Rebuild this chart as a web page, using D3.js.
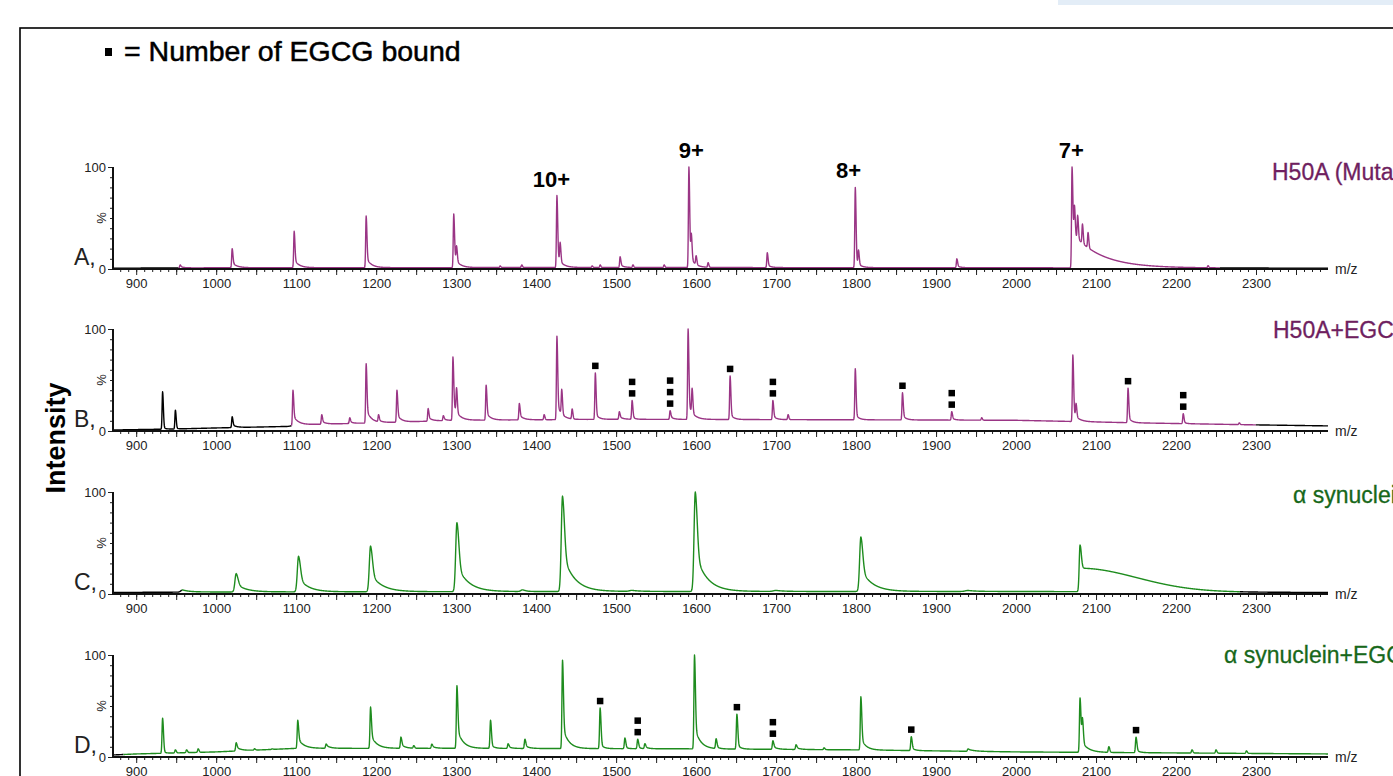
<!DOCTYPE html>
<html><head><meta charset="utf-8">
<script src="https://cdn.jsdelivr.net/npm/d3@7"></script>
<style>
body{margin:0;background:#fff;}
svg{display:block;font-family:"Liberation Sans",Arial,Helvetica,sans-serif;}
</style>
</head><body>
<svg id="chart" width="1393" height="776"></svg>
<script>
// ---------------- DATA ----------------
const panelLetters = ["A,", "B,", "C,", "D,"];
const panelNames = ["H50A (Mutant)", "H50A+EGCG", "α synuclein", "α synuclein+EGCG"];
const mzDomain = [871, 2390];
const xTickLabels = [900, 1000, 1100, 1200, 1300, 1400, 1500, 1600, 1700, 1800, 1900, 2000, 2100, 2200, 2300];
const yTickLabels = [0, 100];
const legendText = "= Number of EGCG bound";
const yTitle = "Intensity";

// peaks: [m/z, apex %, tail %, tail length, tail exponent, width]
const peaksA = [
  [955, 4, 1.5, 4], [1020, 20, 5, 6], [1097.5, 37, 8, 6], [1187.5, 52, 10, 6],
  [1297, 54, 12, 6], [1300.5, 16], [1355, 3], [1382, 4], [1426, 72, 12, 6], [1430, 20],
  [1470, 3], [1480, 4], [1505, 12, 3, 4], [1521, 4], [1560, 4],
  [1591, 100, 14, 6], [1594, 26], [1600, 10], [1615, 6], [1689, 16, 3, 4],
  [1799, 80, 8, 5], [1803, 15], [1926, 10, 2, 4],
  [2070, 100, 35, 35], [2073, 30], [2077, 24], [2083, 20], [2090, 16], [2240, 3]
];
const baseA = [[871, 0.8], [1000, 1.2], [1500, 1.5], [2000, 1.2], [2390, 0.8]];

const peaksB = [
  [933, 38.5, 2, 3], [949, 20.5, 1, 3], [1020, 14, 3, 5], [1096, 40, 10, 6],
  [1132, 16, 3, 5], [1167, 13, 2, 4], [1187.5, 66, 14, 6], [1203, 15, 2, 4],
  [1226, 40, 8, 5], [1265, 22, 4, 5], [1284, 15, 2, 4], [1296, 72.5, 18, 6], [1300.5, 34],
  [1337.5, 45, 8, 5], [1379, 27, 5, 5], [1410, 16], [1426, 93, 16, 6], [1432, 35],
  [1445, 21], [1474, 57, 6, 4], [1504, 19, 3, 4], [1520, 30, 3, 3], [1567.5, 20, 3, 4],
  [1590, 100, 16, 6], [1595, 35], [1642.5, 54, 6, 4], [1696, 30, 4, 4], [1715, 16],
  [1799, 61, 6, 4], [1858, 37.5, 5, 4], [1919.6, 19, 2, 4], [1957, 13],
  [2071, 74.5, 10, 6], [2075, 22], [2140, 42, 6, 4], [2209, 17, 2, 3], [2279, 8]
];
const baseB = [[871, 1], [950, 2], [1000, 3], [1090, 4.5], [1100, 6], [1200, 8], [1300, 10.5],
  [1500, 11.5], [1800, 11], [2000, 10.5], [2150, 8], [2300, 6], [2390, 5]];

const peaksC = [
  [958, 4, 2, 10, 1, 2], [1025, 20, 8, 12, 1, 1.5], [1103, 37, 14, 12, 1, 1.5],
  [1193, 47, 18, 14, 1, 1.5], [1301, 70, 26, 14, 1, 1.5], [1383, 4, 1, 6, 1, 2],
  [1433, 96, 38, 14, 1, 1.5], [1520, 3, 1, 10, 1, 3], [1599, 100, 38, 14, 1, 1.5],
  [1700, 3, 1, 10, 1, 3], [1806, 56, 22, 14, 1, 1.5], [1940, 3, 1, 10, 1, 3],
  [2080, 48, 23, 100, 2, 1]
];
const baseC = [[871, 1.5], [1000, 2], [1500, 2.5], [2000, 2.5], [2390, 1.5]];

const peaksD = [
  [933, 38, 2, 3], [949, 7], [963, 7], [977.5, 8], [1025, 14, 4, 6], [1048, 8], [1070, 8],
  [1102, 36, 10, 7], [1137.5, 12.7, 3, 5], [1193, 49, 14, 7], [1231, 19.5, 4, 5], [1247, 11],
  [1269.6, 12.7, 2, 5], [1301, 70, 20, 7], [1343, 36, 4, 4], [1365, 13, 2, 4],
  [1386, 17.5, 3, 5], [1433, 95, 22, 7], [1480, 48, 5, 4], [1511, 18.6, 2, 3],
  [1527, 17.5, 2, 3], [1536, 13, 2, 4], [1598, 100, 22, 7], [1625, 17.5, 2, 4],
  [1651, 42, 5, 4], [1696, 16, 3, 5], [1725, 12, 2, 5], [1760, 9], [1806, 59, 12, 6],
  [1869, 20, 3, 4], [1940, 8, 2, 8], [2080, 58, 14, 8], [2083, 28], [2116, 10],
  [2150, 19.5, 3, 4], [2220, 7], [2250, 7], [2288, 6]
];
const baseD = [[871, 2], [900, 3], [1000, 5], [1100, 8.5], [1300, 8.5], [1600, 8], [1800, 7],
  [2000, 5], [2200, 4], [2390, 3]];

// m/z ranges drawn in black
const blackA = [[871, 953], [2255, 2390]];
const blackB = [[871, 1094], [2300, 2390]];
const blackC = [[871, 957], [2280, 2390]];
const blackD = [[871, 884]];

// EGCG-bound annotations: [m/z of peak, number bound]
const egcgB = [[1474, 1], [1520, 2], [1567.5, 3], [1642.5, 1], [1696, 2], [1858, 1], [1919.6, 2], [2140, 1], [2209, 2]];
const egcgD = [[1480, 1], [1527, 2], [1651, 1], [1696, 2], [1869, 1], [2150, 1]];

// charge state labels over panel A: [label m/z, text, peak m/z]
const chargeLabels = [[1419, "10+", 1426], [1594, "9+", 1591], [1790.5, "8+", 1799], [2069, "7+", 2070]];

// ---------------- DRAW ----------------
const svg = d3.select("#chart");
const purple = "#9a3585", green = "#1e8c1e";
const panels = [
  {peaks: peaksA, base: baseA, black: blackA, color: purple, text: "#6f1f60", w: 0.6, egcg: [], nameX: 1272, nameDy: 13},
  {peaks: peaksB, base: baseB, black: blackB, color: purple, text: "#6f1f60", w: 0.6, egcg: egcgB, nameX: 1273, nameDy: 9},
  {peaks: peaksC, base: baseC, black: blackC, color: green, text: "#17681a", w: 1.2, egcg: [], nameX: 1293, nameDy: 11},
  {peaks: peaksD, base: baseD, black: blackD, color: green, text: "#17681a", w: 0.7, egcg: egcgD, nameX: 1224, nameDy: 8}
];
const axisYs = [269, 431, 594, 757];
const plotH = 102;

const x = d3.scaleLinear().domain(mzDomain).range([113, 1328]);

// outer frame and top strip
svg.append("rect").attr("x", 1058).attr("y", 0).attr("width", 335).attr("height", 5).attr("fill", "#e3edf7");
svg.append("rect").attr("x", 20).attr("y", 28).attr("width", 1400).attr("height", 800)
  .attr("fill", "none").attr("stroke", "#000").attr("stroke-width", 1.6);

// legend
svg.append("rect").attr("x", 105).attr("y", 48).attr("width", 7).attr("height", 8).attr("fill", "#000");
svg.append("text").attr("x", 124).attr("y", 61).attr("font-size", 28.5).attr("fill", "#000")
  .attr("stroke", "#000").attr("stroke-width", 0.5).text(legendText);

// y title
svg.append("text").attr("transform", "translate(65,438) rotate(-90)").attr("text-anchor", "middle")
  .attr("font-size", 27).attr("font-weight", "bold").attr("fill", "#000").text(yTitle);

function interpBase(knots) {
  const xs = knots.map(d => d[0]), ys = knots.map(d => d[1]);
  return d3.scaleLinear().domain(xs).range(ys).clamp(true);
}

panels.forEach((p, i) => {
  const ay = axisYs[i];
  const y = d3.scaleLinear().domain([0, 100]).range([ay, ay - plotH]);
  const g = svg.append("g");
  const base = interpBase(p.base);
  const pk = p.peaks.map(d => ({
    mz: d[0], apex: d[1], tail: d[2] || 0, L: d[3] || 4, k: d[4] || 1, w: d[5] || p.w
  }));
  pk.forEach(q => { q.amp = Math.max(0, q.apex - base(q.mz) - q.tail); });
  const pts = [];
  for (let m = mzDomain[0]; m <= mzDomain[1] + 1e-9; m += 0.25) {
    let v = base(m);
    for (const q of pk) {
      const d = m - q.mz;
      if (d < -30) continue;
      const wl = d < 0 ? q.w : q.w * 1.6;
      if (Math.abs(d) < 12 * wl) v += q.amp * Math.exp(-0.5 * (d / wl) ** 2);
      if (q.tail > 0) {
        if (d >= 0) v += q.tail * Math.exp(-Math.pow(d / q.L, q.k));
        else v += q.tail * Math.exp(-((d / (q.w * 1.5)) ** 2));
      }
    }
    pts.push([m, Math.min(v, 100)]);
  }
  // split into colored runs
  const isBlack = m => p.black.some(r => m >= r[0] && m <= r[1]);
  const runs = [];
  let cur = null;
  pts.forEach(pt => {
    const c = isBlack(pt[0]) ? "#000" : p.color;
    if (!cur || cur.c !== c) {
      const prev = cur ? cur.pts[cur.pts.length - 1] : null;
      cur = {c, pts: prev ? [prev] : []};
      runs.push(cur);
    }
    cur.pts.push(pt);
  });
  const line = d3.line().x(d => x(d[0])).y(d => y(d[1]));

  // axes
  const xMinor = d3.axisBottom(x).tickValues(d3.range(880, 2390, 10)).tickSize(3).tickFormat("");
  const xMid = d3.axisBottom(x).tickValues(d3.range(900, 2390, 50)).tickSize(6).tickFormat("");
  const xLab = d3.axisBottom(x).tickValues(xTickLabels).tickSize(0).tickPadding(10).tickFormat(d3.format("d"));
  [xMinor, xMid, xLab].forEach(ax => {
    const a = g.append("g").attr("transform", `translate(0,${ay})`).call(ax);
    a.select(".domain").remove();
    a.selectAll("line").attr("stroke", "#222").attr("stroke-width", 1);
    a.selectAll("text").attr("font-size", 13).attr("fill", "#222").attr("font-family", "Liberation Sans, Arial, sans-serif");
  });
  const yMinor = d3.axisLeft(y).tickValues(d3.range(0, 101, 10)).tickSize(3).tickFormat("");
  const yMaj = d3.axisLeft(y).tickValues(yTickLabels).tickSize(5).tickPadding(2).tickFormat(d3.format("d"));
  [yMinor, yMaj].forEach(ax => {
    const a = g.append("g").attr("transform", `translate(113,0)`).call(ax);
    a.select(".domain").remove();
    a.selectAll("line").attr("stroke", "#222").attr("stroke-width", 1);
    a.selectAll("text").attr("font-size", 13).attr("fill", "#222").attr("font-family", "Liberation Sans, Arial, sans-serif");
  });

  // spectrum
  runs.forEach(r => {
    g.append("path").attr("d", line(r.pts)).attr("fill", "none")
      .attr("stroke", r.c).attr("stroke-width", 1.4).attr("stroke-linejoin", "round");
  });

  // axis lines
  g.append("line").attr("x1", 112).attr("x2", 1328).attr("y1", ay).attr("y2", ay)
    .attr("stroke", "#111").attr("stroke-width", 1.8);
  g.append("line").attr("x1", 113).attr("x2", 113).attr("y1", ay + 1).attr("y2", ay - plotH)
    .attr("stroke", "#111").attr("stroke-width", 2);

  // % label
  g.append("text").attr("transform", `translate(106,${y(50)}) rotate(-90)`).attr("text-anchor", "middle")
    .attr("font-size", 13).attr("fill", "#222").text("%");
  // m/z
  g.append("text").attr("x", 1335).attr("y", ay + 5).attr("font-size", 14).attr("fill", "#222").text("m/z");
  // panel letter
  g.append("text").attr("x", 74).attr("y", ay - 4).attr("font-size", 23).attr("fill", "#222").text(panelLetters[i]);
  // panel name (clipped by the page edge, as in the original figure)
  g.append("text").attr("x", p.nameX).attr("y", ay - plotH + p.nameDy).attr("font-size", 23)
    .attr("fill", p.text).attr("stroke", p.text).attr("stroke-width", 0.3).text(panelNames[i]);

  // EGCG squares
  p.egcg.forEach(([mz, n]) => {
    const q = pk.find(d => d.mz === mz);
    const topY = y(q.apex);
    for (let k = 0; k < n; k++) {
      const cy = topY - 7 - k * 11.5;
      g.append("rect").attr("x", x(mz) - 3.25).attr("y", cy - 3.25).attr("width", 6.5).attr("height", 6.5).attr("fill", "#000");
    }
  });

  if (i === 0) {
    chargeLabels.forEach(([lm, t, pm]) => {
      const q = pk.find(d => d.mz === pm);
      g.append("text").attr("x", x(lm)).attr("y", y(q.apex) - 9).attr("text-anchor", "middle")
        .attr("font-size", 22).attr("font-weight", "bold").attr("fill", "#000").text(t);
    });
  }
});
</script>
</body></html>
